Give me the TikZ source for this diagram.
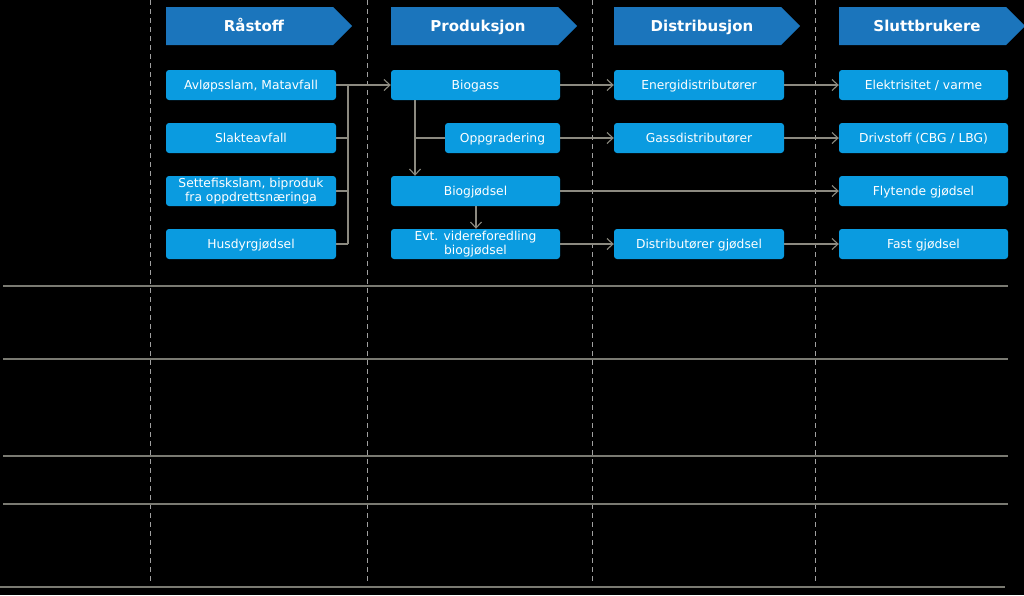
\documentclass[tikz,border=0pt]{standalone}
\usepackage{fontspec}
\setmainfont{DejaVu Sans}
\usetikzlibrary{arrows.meta}
\definecolor{hdr}{HTML}{1B75BC}
\definecolor{boxc}{HTML}{0A9BE0}
\definecolor{conn}{HTML}{8C8A80}
\definecolor{hline}{HTML}{7A7A72}
\definecolor{dashc}{HTML}{A0A0A0}
\tikzset{
  procbase/.style={fill=boxc, rounded corners=3pt, text=white, font=\fontsize{12.3}{13.5}\selectfont,
    minimum height=30pt, inner sep=0pt, align=center},
  procbox/.style={procbase, text height=9pt, text depth=0pt},
  hdrtext/.style={text=white, font=\bfseries\fontsize{15}{17}\selectfont, inner sep=0pt,
    text height=11pt, text depth=0pt},
  hdrshape/.style={fill=hdr},
  conline/.style={draw=conn, line width=1.1pt},
  conarrow/.style={conline, -{Straight Barb[length=6pt,width=11pt,line width=1.1pt]}},
  divline/.style={draw=dashc, line width=0.8pt, dash pattern=on 5pt off 4pt},
  rowline/.style={draw=hline, line width=1.8pt}
}
\begin{document}
\begin{tikzpicture}[x=1pt,y=-1pt]
\fill[black] (0,0) rectangle (1024,595);
\useasboundingbox (0,0) rectangle (1024,595);

% column dividers
\foreach \x in {150,367,592,815} \draw[divline] (\x,0) -- (\x,583);
% row lines
\foreach \y in {286,359,456,504} \draw[rowline] (3,\y) -- (1008,\y);
\draw[rowline] (0,587) -- (1005,587);

% headers
\fill[hdrshape] (166,7) -- (333,7) -- (352,26) -- (333,45) -- (166,45) -- cycle;
\node[hdrtext] (h1) at (254,26) {Råstoff};
\fill[hdrshape] (391,7) -- (558,7) -- (577,26) -- (558,45) -- (391,45) -- cycle;
\node[hdrtext] (h2) at (478,26) {Produksjon};
\fill[hdrshape] (614,7) -- (781,7) -- (800,26) -- (781,45) -- (614,45) -- cycle;
\node[hdrtext] (h3) at (702,26) {Distribusjon};
\fill[hdrshape] (839,7) -- (1006,7) -- (1025,26) -- (1006,45) -- (839,45) -- cycle;
\node[hdrtext] (h4) at (927,26) {Sluttbrukere};

% column 1
\node[procbox, minimum width=170pt] (a1) at (251,85) {Avløpsslam, Matavfall};
\node[procbox, minimum width=170pt] (a2) at (251,138) {Slakteavfall};
\node[procbase, minimum width=170pt] (a3) at (251,191) {Settefiskslam, biproduk\\fra oppdrettsnæringa};
\node[procbox, minimum width=170pt] (a4) at (251,244) {Husdyrgjødsel};
% column 2
\node[procbox, minimum width=169pt] (b1) at (475.5,85) {Biogass};
\node[procbox, minimum width=115pt] (b2) at (502.5,138) {Oppgradering};
\node[procbox, minimum width=169pt] (b3) at (475.5,191) {Biogjødsel};
\node[procbase, minimum width=169pt] (b4) at (475.5,244) {Evt. videreforedling\\biogjødsel};
% column 3
\node[procbox, minimum width=170pt] (c1) at (699,85) {Energidistributører};
\node[procbox, minimum width=170pt] (c2) at (699,138) {Gassdistributører};
\node[procbox, minimum width=170pt] (c4) at (699,244) {Distributører gjødsel};
% column 4
\node[procbox, minimum width=169pt] (d1) at (923.5,85) {Elektrisitet / varme};
\node[procbox, minimum width=169pt] (d2) at (923.5,138) {Drivstoff (CBG / LBG)};
\node[procbox, minimum width=169pt] (d3) at (923.5,191) {Flytende gjødsel};
\node[procbox, minimum width=169pt] (d4) at (923.5,244) {Fast gjødsel};

% bus from raw materials
\coordinate (bustop) at (348,85);
\coordinate (busbot) at (348,244);
\draw[conline] (bustop) -- (busbot);
\draw[conarrow] (a1.east) -- (b1.west);
\draw[conline] (a2.east) -- (a2.east -| bustop);
\draw[conline] (a3.east) -- (a3.east -| bustop);
\draw[conline] (a4.east) -- (busbot);

% production internals
\coordinate (bv) at (415,100);
\draw[conarrow] (bv) -- (bv |- b3.north);
\draw[conline] (bv |- b2.west) -- (b2.west);
\draw[conarrow] (b3.south -| 476,0) -- (b4.north -| 476,0);

% to distribution and end users
\draw[conarrow] (b1.east) -- (c1.west);
\draw[conarrow] (b2.east) -- (c2.west);
\draw[conarrow] (b3.east) -- (d3.west);
\draw[conarrow] (b4.east) -- (c4.west);
\draw[conarrow] (c1.east) -- (d1.west);
\draw[conarrow] (c2.east) -- (d2.west);
\draw[conarrow] (c4.east) -- (d4.west);
\end{tikzpicture}
\end{document}
